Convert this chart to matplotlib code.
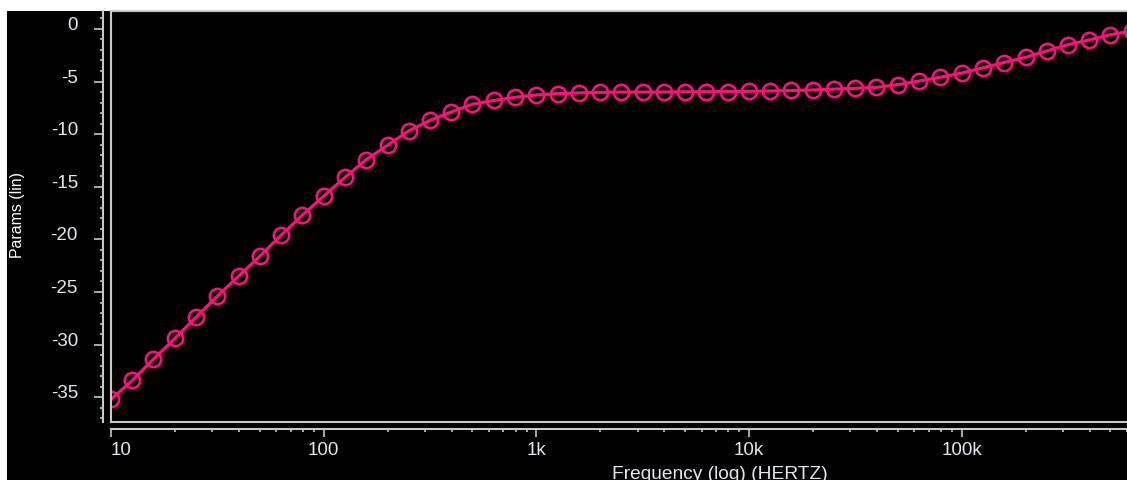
import numpy as np
import matplotlib
matplotlib.use('Agg')
import matplotlib.pyplot as plt
from matplotlib.ticker import LogLocator, MultipleLocator, NullFormatter
from matplotlib.patches import Rectangle

# frequency points (Hz), 10 per decade
freq = [10, 12.6, 15.8, 20, 25.1, 31.6, 39.8, 50.1, 63.1, 79.4,
        100, 126, 158, 200, 251, 316, 398, 501, 631, 794,
        1e3, 1.26e3, 1.58e3, 2e3, 2.51e3, 3.16e3, 3.98e3, 5.01e3, 6.31e3, 7.94e3,
        1e4, 1.26e4, 1.58e4, 2e4, 2.51e4, 3.16e4, 3.98e4, 5.01e4, 6.31e4, 7.94e4,
        1e5, 1.26e5, 1.58e5, 2e5, 2.51e5, 3.16e5, 3.98e5, 5.01e5, 6.31e5]

# curve values
params = [-35.2, -33.4, -31.4, -29.4, -27.4, -25.4, -23.5, -21.6, -19.6, -17.7,
          -15.9, -14.1, -12.45, -11.05, -9.7, -8.7, -7.9, -7.15, -6.8, -6.5,
          -6.28, -6.15, -6.08, -6.03, -6.0, -6.0, -6.0, -5.98, -5.97, -5.95,
          -5.93, -5.9, -5.85, -5.8, -5.72, -5.65, -5.55, -5.3, -4.95, -4.6,
          -4.2, -3.7, -3.2, -2.7, -2.1, -1.5, -1.05, -0.55, -0.2]

xticks = [10, 100, 1e3, 1e4, 1e5]
xticklabels = ['10', '100', '1k', '10k', '100k']
yticks = [0, -5, -10, -15, -20, -25, -30, -35]
yticklabels = ['0', '-5', '-10', '-15', '-20', '-25', '-30', '-35']

plt.rcParams['font.family'] = ['Liberation Sans', 'DejaVu Sans']

W, H = 1127, 481
pink = '#FF0F7B'
gray = '#C8C8C8'
txt = '#E4E8EE'

fig = plt.figure(figsize=(W / 100, H / 100), dpi=100, facecolor='white')
# black panel behind everything (white strip left and top)
fig.patches.append(Rectangle((7 / W, 0), 1, 1 - 12 / H, transform=fig.transFigure,
                             facecolor='black', edgecolor='none', zorder=-10))

ax = fig.add_axes([111 / W, (H - 423) / H, (W - 111) / W, (423 - 12) / H])
ax.set_zorder(1)
ax.set_facecolor('black')

ax.plot(freq, params, color=pink, lw=2.3, marker='o', ms=11, mfc='none', mew=1.9)

ax.set_xscale('log')
ax.set_xlim(10, 6e5)
ax.set_ylim(-37.35, 1.7)

# axes lines pulled away from the plot frame
ax.spines['right'].set_visible(False)
ax.spines['top'].set_color(gray)
ax.spines['top'].set_linewidth(1.5)
ax.spines['left'].set_position(('outward', 5.8))
ax.spines['bottom'].set_position(('outward', 5.0))
for s in ['left', 'bottom']:
    ax.spines[s].set_color(gray)
    ax.spines[s].set_linewidth(1.5)

# plot frame on left and bottom
ax.plot([0, 0], [0, 1], transform=ax.transAxes, color=gray, lw=1.5, clip_on=False)
ax.plot([0, 1], [0, 0], transform=ax.transAxes, color=gray, lw=1.5, clip_on=False)

ax.set_xticks(xticks, labels=xticklabels)
ax.get_xticklabels()[0].set_horizontalalignment('left')
ax.xaxis.set_minor_locator(LogLocator(base=10, subs=np.arange(2, 10), numticks=20))
ax.xaxis.set_minor_formatter(NullFormatter())
ax.set_yticks(yticks, labels=yticklabels, va='baseline')
ax.yaxis.set_minor_locator(MultipleLocator(1))

ax.tick_params(axis='x', which='major', length=5.8, width=1.2, color=gray, pad=3.2,
               labelsize=13.5, labelcolor=txt)
ax.tick_params(axis='x', which='minor', length=2.2, width=1.2, color=gray)
ax.tick_params(axis='y', which='major', length=6.5, width=1.2, color=gray, pad=11.5,
               labelsize=13.5, labelcolor=txt)
ax.tick_params(axis='y', which='minor', length=2.5, width=1.2, color=gray)

fig.text(720 / W, 2 / H, 'Frequency (log) (HERTZ)', ha='center', va='baseline',
         fontsize=13.8, color=txt)
fig.text(18 / W, 1 - 215 / H, 'Params (lin)', rotation=90, ha='center', va='center',
         fontsize=11.4, color='white')

fig.savefig('out.png', dpi=100, facecolor=fig.get_facecolor())
